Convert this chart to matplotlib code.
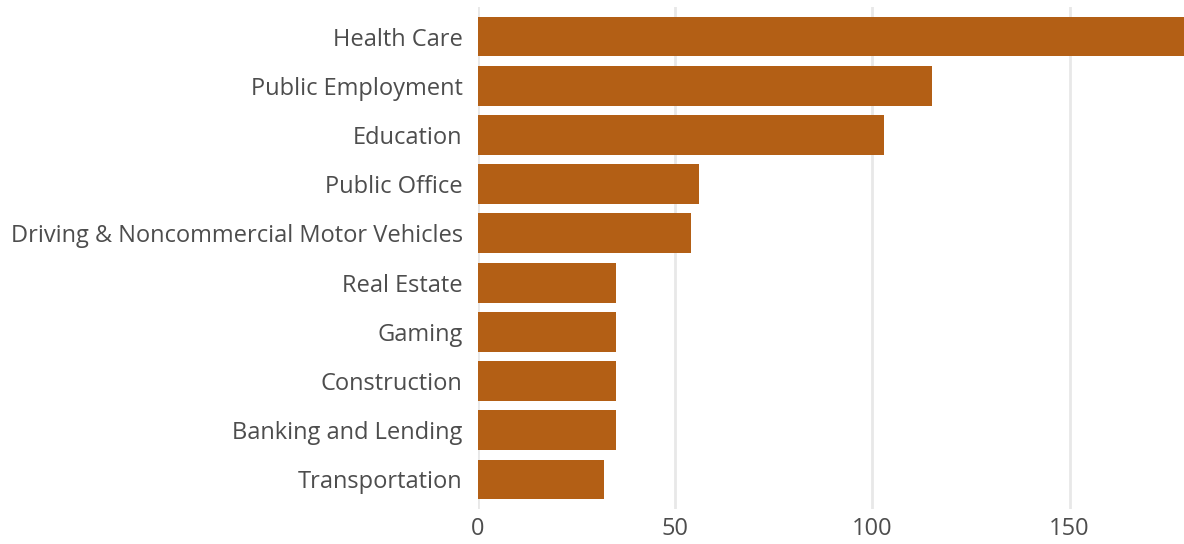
import matplotlib
matplotlib.use("Agg")
import matplotlib.pyplot as plt

categories = [
    "Health Care",
    "Public Employment",
    "Education",
    "Public Office",
    "Driving & Noncommercial Motor Vehicles",
    "Real Estate",
    "Gaming",
    "Construction",
    "Banking and Lending",
    "Transportation",
]
values = [179, 115, 103, 56, 54, 35, 35, 35, 35, 32]
xticks = [0, 50, 100, 150]

bar_color = "#B35F15"
text_color = "#4D4D4D"
grid_color = "#E8E8E8"

plt.rcParams["font.family"] = ["Open Sans", "DejaVu Sans"]

fig = plt.figure(figsize=(11.84, 5.44), dpi=100)
ax = fig.add_axes([478 / 1184, 1 - 509 / 544, 1 - 478 / 1184, (509 - 7) / 544])

ypos = list(range(len(categories)))
ax.barh(ypos, values, height=0.81, color=bar_color, zorder=2)

ax.set_xlim(0, max(values))
ax.set_ylim(len(categories) - 0.4, -0.6)
ax.set_yticks(ypos)
ax.set_yticklabels(categories)
ax.set_xticks(xticks)
ax.set_xticklabels([str(t) for t in xticks])

ax.tick_params(axis="both", length=0, labelsize=17, labelcolor=text_color)
ax.tick_params(axis="y", pad=11)
ax.tick_params(axis="x", pad=6)

ax.grid(axis="x", color=grid_color, linewidth=2, zorder=0)
ax.grid(axis="y", visible=False)
for s in ax.spines.values():
    s.set_visible(False)

fig.savefig("out.png", dpi=100)
